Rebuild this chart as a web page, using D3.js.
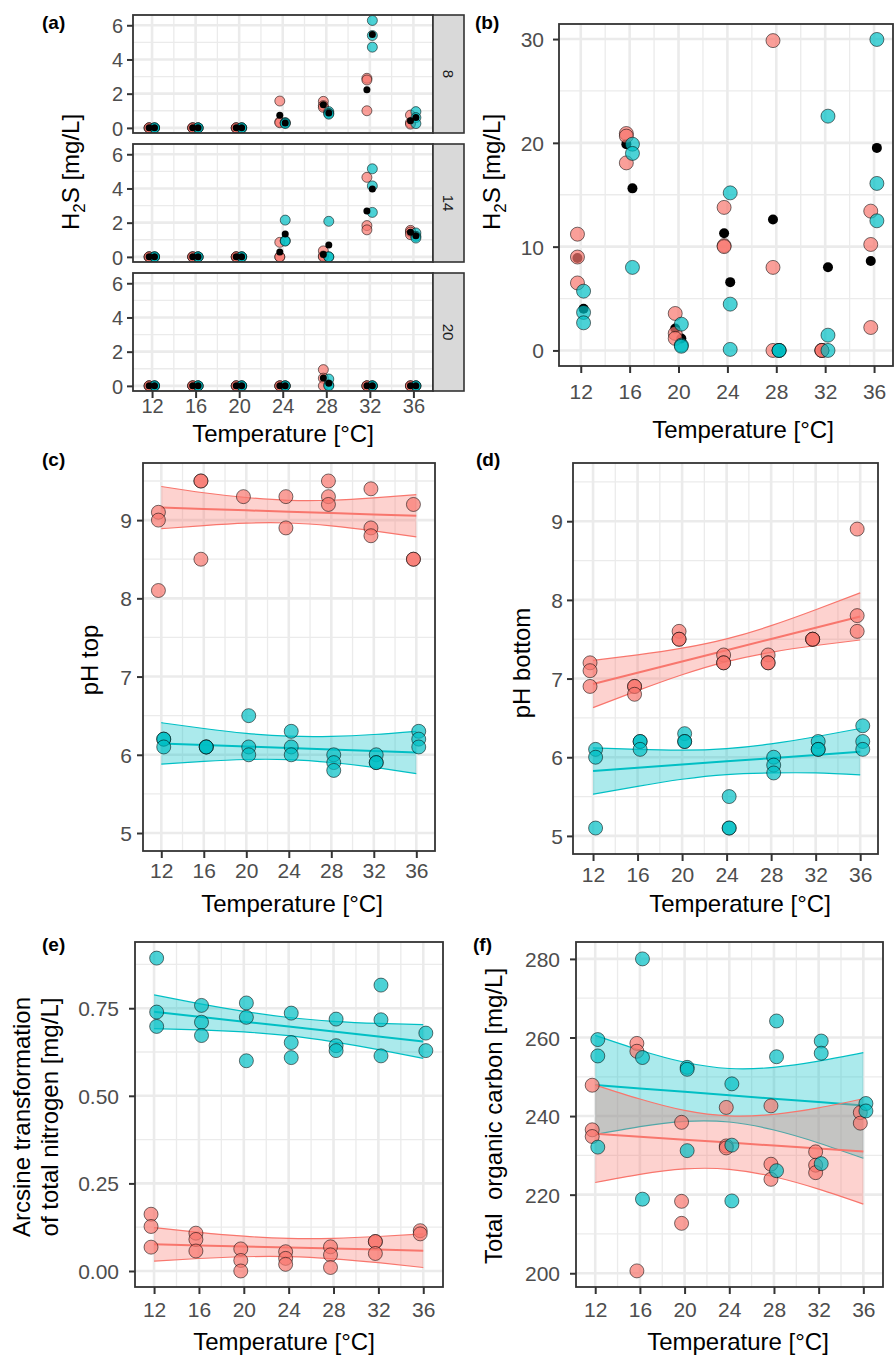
<!DOCTYPE html>
<html><head><meta charset="utf-8">
<script src="https://cdn.jsdelivr.net/npm/d3@7"></script>
<style>
body{margin:0;background:#fff}
svg{display:block}
text{font-family:"Liberation Sans",Arial,Helvetica,sans-serif}
</style>
</head><body>
<svg id="chart" width="894" height="1355"></svg>
<script>
// ---------------- DATA ----------------
const temps = [12, 16, 20, 24, 28, 32, 36];
const xTickLabels = ["12", "16", "20", "24", "28", "32", "36"];
const facetLabels = ["8", "14", "20"];
const xTitle = "Temperature [°C]";

// (a) H2S by facet, 3 replicates per temperature
const h2sA8Red   = [[0,0,0],[0,0,0],[0,0,0],[1.57,0.35,0.3],[1.55,1.3,1.2],[2.9,2.8,1.0],[0.75,0.3,0.22]];
const h2sA8Teal  = [[0,0,0],[0,0,0],[0,0,0],[0.3,0.3,0.25],[0.95,0.85,0.8],[6.28,5.4,4.72],[0.95,0.6,0.25]];
const h2sA14Red  = [[0,0,0],[0,0,0],[0,0,0],[0.85,0,0],[0.35,0.05,0],[4.65,1.83,1.58],[1.55,1.45,1.3]];
const h2sA14Teal = [[0,0,0],[0,0,0],[0,0,0],[2.15,0.95,0.92],[2.08,0,0],[5.15,4.15,2.6],[1.4,1.2,1.1]];
const h2sA20Red  = [[0,0,0],[0,0,0],[0,0,0],[0,0,0],[0.95,0.45,0],[0,0,0],[0,0,0]];
const h2sA20Teal = [[0,0,0],[0,0,0],[0,0,0],[0,0,0],[0.4,0.05,0],[0,0,0],[0,0,0]];

// (b) H2S
const h2sBRed  = [[11.2,9.0,6.5],[20.9,20.65,18.07],[3.56,1.64,1.16],[13.78,10.1,10.0],[29.85,8.0,0],[0,0,0],[13.42,10.21,2.21]];
const h2sBTeal = [[5.71,3.66,2.66],[19.87,18.98,8.0],[2.53,0.51,0.4],[15.18,4.46,0.1],[0,0,0],[22.57,1.47,0],[29.96,16.09,12.49]];

// (c) pH top
const pHtopRed  = [[9.1,9.0,8.1],[9.5,9.5,8.5],[9.3],[9.3,8.9],[9.5,9.3,9.2],[9.4,8.9,8.8],[9.2,8.5,8.5]];
const pHtopTeal = [[6.2,6.2,6.1],[6.1,6.1,6.1],[6.5,6.1,6.0],[6.3,6.1,6.0],[6.0,5.9,5.8],[6.0,5.9,5.9],[6.3,6.2,6.1]];
const pHtopRedFit  = [9.16, 9.143, 9.125, 9.108, 9.09, 9.073, 9.055];
const pHtopRedUpr  = [9.43, 9.35, 9.289, 9.253, 9.254, 9.283, 9.325];
const pHtopRedLwr  = [8.89, 8.93, 8.961, 8.963, 8.926, 8.862, 8.785];
const pHtopTealFit = [6.145, 6.126, 6.107, 6.088, 6.068, 6.049, 6.03];
const pHtopTealUpr = [6.41, 6.336, 6.274, 6.238, 6.235, 6.259, 6.3];
const pHtopTealLwr = [5.88, 5.916, 5.94, 5.938, 5.901, 5.839, 5.76];

// (d) pH bottom
const pHbotRed  = [[7.2,7.1,6.9],[6.9,6.9,6.8],[7.6,7.5,7.5],[7.3,7.2,7.2],[7.3,7.2,7.2],[7.5,7.5,7.5],[8.9,7.8,7.6]];
const pHbotTeal = [[6.1,6.0,5.1],[6.2,6.2,6.1],[6.3,6.2,6.2],[5.5,5.1,5.1],[6.0,5.9,5.8],[6.2,6.1,6.1],[6.4,6.2,6.1]];
const pHbotRedFit  = [6.93, 7.073, 7.217, 7.36, 7.503, 7.647, 7.79];
const pHbotRedUpr  = [7.23, 7.30, 7.386, 7.505, 7.672, 7.874, 8.09];
const pHbotRedLwr  = [6.63, 6.846, 7.048, 7.215, 7.334, 7.42, 7.49];
const pHbotTealFit = [5.825, 5.866, 5.907, 5.948, 5.988, 6.029, 6.07];
const pHbotTealUpr = [6.12, 6.10, 6.09, 6.11, 6.17, 6.26, 6.365];
const pHbotTealLwr = [5.53, 5.63, 5.72, 5.78, 5.80, 5.80, 5.775];

// (e) arcsine total nitrogen
const tnRed  = [[0.162,0.127,0.068],[0.108,0.09,0.057],[0.063,0.03,0.0],[0.055,0.036,0.019],[0.069,0.046,0.01],[0.084,0.084,0.05],[0.115,0.106]];
const tnTeal = [[0.893,0.739,0.698],[0.758,0.71,0.672],[0.765,0.724,0.6],[0.736,0.652,0.609],[0.719,0.643,0.629],[0.816,0.717,0.614],[0.679,0.629]];
const tnRedFit  = [0.076, 0.073, 0.07, 0.067, 0.064, 0.061, 0.058];
const tnRedUpr  = [0.124, 0.1104, 0.0993, 0.093, 0.0933, 0.0984, 0.106];
const tnRedLwr  = [0.028, 0.0356, 0.0407, 0.041, 0.0347, 0.0236, 0.010];
const tnTealFit = [0.74, 0.7258, 0.7117, 0.6975, 0.6833, 0.6692, 0.655];
const tnTealUpr = [0.788, 0.763, 0.741, 0.7235, 0.7126, 0.7066, 0.703];
const tnTealLwr = [0.692, 0.6884, 0.6824, 0.6715, 0.654, 0.632, 0.607];

// (f) total organic carbon
const tocRed  = [[247.85,236.5,234.8],[258.5,256.5,200.6],[238.4,218.3,212.7],[242.2,232.4,231.9],[242.6,227.75,223.9],[230.9,227.5,225.6],[240.9,238.2]];
const tocTeal = [[259.47,255.3,232.1],[280,254.9,218.85],[252.4,251.9,231.2],[248.2,232.6,218.4],[264.2,255.1,226.1],[259.1,256,227.9],[243.2,241.3]];
const tocRedFit  = [235.5, 234.75, 234, 233.25, 232.5, 231.75, 231];
const tocRedUpr  = [247.9, 244.35, 241.45, 240.05, 240.45, 242.1, 244.4];
const tocRedLwr  = [223.1, 225.15, 226.55, 226.45, 224.55, 221.4, 217.6];
const tocTealFit = [247.9, 247.03, 246.17, 245.3, 244.43, 243.57, 242.7];
const tocTealUpr = [260.53, 256.76, 253.7, 252.11, 252.41, 253.98, 256.14];
const tocTealLwr = [235.27, 237.3, 238.64, 238.49, 236.45, 233.16, 229.26];

// ---------------- STYLE ----------------
const RED = "#F8766D", TEAL = "#00BFC4";
const GRID = "#EBEBEB", BORDER = "#333333", TICKTXT = "#4D4D4D";
const xMinorTicks = [14, 18, 22, 26, 30, 34];
const DODGE_RED = -0.27, DODGE_TEAL = 0.23;

const svg = d3.select("#chart");
let clipId = 0;

function flat(arr, dodge) {
  const out = [];
  arr.forEach((vals, i) => vals.forEach(v => out.push({ x: temps[i] + dodge, y: v })));
  return out;
}
function means(arr, dodge) {
  return arr.map((vals, i) => ({ x: temps[i] + dodge, y: d3.mean(vals) }));
}

function panel(o) {
  const x = d3.scaleLinear().domain(o.xDomain).range([o.x0, o.x1]);
  const y = d3.scaleLinear().domain(o.yDomain).range([o.y1, o.y0]);
  const g = svg.append("g");
  g.append("rect").attr("x", o.x0).attr("y", o.y0).attr("width", o.x1 - o.x0).attr("height", o.y1 - o.y0).attr("fill", "#fff");
  const grid = g.append("g");
  grid.selectAll(".ymin").data(o.yMinor).join("line")
    .attr("x1", o.x0).attr("x2", o.x1).attr("y1", d => y(d)).attr("y2", d => y(d))
    .attr("stroke", GRID).attr("stroke-width", 1.3);
  grid.selectAll(".xmin").data(xMinorTicks).join("line")
    .attr("y1", o.y0).attr("y2", o.y1).attr("x1", d => x(d)).attr("x2", d => x(d))
    .attr("stroke", GRID).attr("stroke-width", 1.3);
  grid.selectAll(".ymaj").data(o.yMajor).join("line")
    .attr("x1", o.x0).attr("x2", o.x1).attr("y1", d => y(d)).attr("y2", d => y(d))
    .attr("stroke", GRID).attr("stroke-width", 2.6);
  grid.selectAll(".xmaj").data(temps).join("line")
    .attr("y1", o.y0).attr("y2", o.y1).attr("x1", d => x(d)).attr("x2", d => x(d))
    .attr("stroke", GRID).attr("stroke-width", 2.6);

  const id = "clip" + (clipId++);
  svg.append("clipPath").attr("id", id).append("rect")
    .attr("x", o.x0).attr("y", o.y0).attr("width", o.x1 - o.x0).attr("height", o.y1 - o.y0);
  const plot = g.append("g").attr("clip-path", `url(#${id})`);

  // y axis
  const ya = g.append("g").attr("transform", `translate(${o.x0},0)`)
    .call(d3.axisLeft(y).tickValues(o.yMajor).tickSize(6).tickFormat(o.yFmt || (d => d)));
  ya.select(".domain").remove();
  ya.selectAll(".tick line").attr("stroke", BORDER).attr("stroke-width", 2);
  ya.selectAll(".tick text").attr("x", -o.yLabOff).attr("dy", "0.36em")
    .attr("fill", TICKTXT).attr("font-size", o.tickSize || 21).attr("font-family", null);

  if (o.xAxis) {
    const xa = g.append("g").attr("transform", `translate(0,${o.y1})`)
      .call(d3.axisBottom(x).tickValues(temps).tickSize(7).tickFormat((d, i) => xTickLabels[i]));
    xa.select(".domain").remove();
    xa.selectAll(".tick line").attr("stroke", BORDER).attr("stroke-width", 2);
    xa.selectAll(".tick text").attr("y", o.xLabOff).attr("dy", 0)
      .attr("fill", TICKTXT).attr("font-size", o.tickSize || 21).attr("font-family", null);
  }
  return { x, y, g, plot, o };
}

function border(p) {
  const o = p.o;
  p.g.append("rect").attr("x", o.x0).attr("y", o.y0).attr("width", o.x1 - o.x0).attr("height", o.y1 - o.y0)
    .attr("fill", "none").attr("stroke", BORDER).attr("stroke-width", 1.8);
}

function points(p, data, color, r) {
  p.plot.append("g").selectAll("circle").data(data).join("circle")
    .attr("cx", d => p.x(d.x)).attr("cy", d => p.y(d.y)).attr("r", r)
    .attr("fill", color).attr("fill-opacity", 0.7)
    .attr("stroke", "#000").attr("stroke-opacity", 0.6).attr("stroke-width", 0.9);
}
function blackPts(p, data, r) {
  p.plot.append("g").selectAll("circle").data(data).join("circle")
    .attr("cx", d => p.x(d.x)).attr("cy", d => p.y(d.y)).attr("r", r).attr("fill", "#000");
}

function smooth(p, fit, upr, lwr, color) {
  const rows = temps.map((t, i) => ({ t, f: fit[i], u: upr[i], l: lwr[i] }));
  const area = d3.area().x(d => p.x(d.t)).y0(d => p.y(d.l)).y1(d => p.y(d.u)).curve(d3.curveNatural);
  const g = p.plot.append("g");
  g.append("path").datum(rows).attr("d", area).attr("fill", color).attr("fill-opacity", 0.33);
  const edge = acc => d3.line().x(d => p.x(d.t)).y(d => p.y(acc(d))).curve(d3.curveNatural);
  g.append("path").datum(rows).attr("d", edge(d => d.u)).attr("fill", "none").attr("stroke", color).attr("stroke-width", 1.2);
  g.append("path").datum(rows).attr("d", edge(d => d.l)).attr("fill", "none").attr("stroke", color).attr("stroke-width", 1.2);
  g.append("path").datum(rows).attr("d", d3.line().x(d => p.x(d.t)).y(d => p.y(d.f)))
    .attr("fill", "none").attr("stroke", color).attr("stroke-width", 2);
}

function text(x, y, s, opts = {}) {
  const t = svg.append("text").attr("x", x).attr("y", y).text(s)
    .attr("font-size", opts.size || 24).attr("fill", opts.fill || "#000")
    .attr("text-anchor", opts.anchor || "middle");
  if (opts.bold) t.attr("font-weight", "bold");
  if (opts.rotate) t.attr("transform", `rotate(-90,${x},${y})`);
  return t;
}
function h2sTitle(x, y) {
  const t = svg.append("text").attr("x", x).attr("y", y).attr("font-size", 24)
    .attr("text-anchor", "middle").attr("transform", `rotate(-90,${x},${y})`);
  t.append("tspan").text("H");
  t.append("tspan").text("2").attr("font-size", 17).attr("dy", 6);
  t.append("tspan").text("S [mg/L]").attr("dy", -6);
}

// ---------------- PANEL (a) ----------------
const aFacets = [
  { y0: 15, y1: 133, red: h2sA8Red, teal: h2sA8Teal },
  { y0: 144, y1: 262, red: h2sA14Red, teal: h2sA14Teal },
  { y0: 273, y1: 391, red: h2sA20Red, teal: h2sA20Teal }
];
aFacets.forEach((f, i) => {
  const p = panel({ x0: 133, x1: 433, y0: f.y0, y1: f.y1, xDomain: [10.25, 37.8], yDomain: [-0.3, 6.6],
    yMajor: [0, 2, 4, 6], yMinor: [1, 3, 5], yLabOff: 10, xAxis: i === 2, xLabOff: 22, tickSize: 20 });
  points(p, flat(f.red, DODGE_RED), RED, 5);
  points(p, flat(f.teal, DODGE_TEAL), TEAL, 5);
  blackPts(p, means(f.red, DODGE_RED), 3.5);
  blackPts(p, means(f.teal, DODGE_TEAL), 3.5);
  border(p);
  svg.append("rect").attr("x", 433).attr("y", f.y0).attr("width", 31).attr("height", f.y1 - f.y0)
    .attr("fill", "#D9D9D9").attr("stroke", BORDER).attr("stroke-width", 1.6);
  const cy = (f.y0 + f.y1) / 2;
  svg.append("text").attr("x", 448.5).attr("y", cy).attr("text-anchor", "middle").attr("dy", "0.35em")
    .attr("font-size", 15).attr("fill", "#1A1A1A").attr("transform", `rotate(90,448.5,${cy})`).text(facetLabels[i]);
});
h2sTitle(79, 172);
text(283, 442, xTitle);
text(42, 29, "(a)", { size: 19, bold: true, anchor: "start" });

// ---------------- PANEL (b) ----------------
{
  const p = panel({ x0: 559, x1: 893, y0: 24, y1: 366, xDomain: [10.22, 37.55], yDomain: [-1.5, 31.45],
    yMajor: [0, 10, 20, 30], yMinor: [5, 15, 25], yLabOff: 15, xAxis: true, xLabOff: 33 });
  blackPts(p, means(h2sBRed, DODGE_RED), 5);
  blackPts(p, means(h2sBTeal, DODGE_TEAL), 5);
  points(p, flat(h2sBRed, DODGE_RED), RED, 7);
  points(p, flat(h2sBTeal, DODGE_TEAL), TEAL, 7);
  border(p);
  h2sTitle(500, 172);
  text(743, 438, xTitle);
  text(475, 29, "(b)", { size: 19, bold: true, anchor: "start" });
}

// ---------------- PANEL (c) ----------------
{
  const p = panel({ x0: 143, x1: 435, y0: 463, y1: 851, xDomain: [10.28, 37.76], yDomain: [4.77, 9.73],
    yMajor: [5, 6, 7, 8, 9], yMinor: [5.5, 6.5, 7.5, 8.5, 9.5], yLabOff: 11, xAxis: true, xLabOff: 27 });
  smooth(p, pHtopTealFit, pHtopTealUpr, pHtopTealLwr, TEAL);
  smooth(p, pHtopRedFit, pHtopRedUpr, pHtopRedLwr, RED);
  points(p, flat(pHtopRed, DODGE_RED), RED, 7);
  points(p, flat(pHtopTeal, DODGE_TEAL), TEAL, 7);
  border(p);
  text(98, 660, "pH top", { rotate: true });
  text(292, 912, xTitle);
  text(42, 466, "(c)", { size: 19, bold: true, anchor: "start" });
}

// ---------------- PANEL (d) ----------------
{
  const p = panel({ x0: 573, x1: 878, y0: 463, y1: 854, xDomain: [10.2, 37.6], yDomain: [4.77, 9.74],
    yMajor: [5, 6, 7, 8, 9], yMinor: [5.5, 6.5, 7.5, 8.5, 9.5], yLabOff: 10, xAxis: true, xLabOff: 28 });
  smooth(p, pHbotTealFit, pHbotTealUpr, pHbotTealLwr, TEAL);
  smooth(p, pHbotRedFit, pHbotRedUpr, pHbotRedLwr, RED);
  points(p, flat(pHbotRed, DODGE_RED), RED, 7);
  points(p, flat(pHbotTeal, DODGE_TEAL), TEAL, 7);
  border(p);
  text(530, 663, "pH bottom", { rotate: true });
  text(740, 912, xTitle);
  text(476, 466, "(d)", { size: 19, bold: true, anchor: "start" });
}

// ---------------- PANEL (e) ----------------
{
  const p = panel({ x0: 135, x1: 443, y0: 942, y1: 1287, xDomain: [10.3, 37.76], yDomain: [-0.0457, 0.939],
    yMajor: [0, 0.25, 0.5, 0.75], yMinor: [0.125, 0.375, 0.625, 0.875], yFmt: d3.format(".2f"),
    yLabOff: 16, xAxis: true, xLabOff: 30 });
  smooth(p, tnTealFit, tnTealUpr, tnTealLwr, TEAL);
  smooth(p, tnRedFit, tnRedUpr, tnRedLwr, RED);
  points(p, flat(tnRed, DODGE_RED), RED, 7);
  points(p, flat(tnTeal, DODGE_TEAL), TEAL, 7);
  border(p);
  text(30, 1117, "Arcsine transformation", { rotate: true });
  text(58, 1117, "of total nitrogen [mg/L]", { rotate: true });
  text(284, 1350, xTitle);
  text(42, 951, "(e)", { size: 19, bold: true, anchor: "start" });
}

// ---------------- PANEL (f) ----------------
{
  const p = panel({ x0: 576, x1: 883, y0: 942, y1: 1287, xDomain: [10.28, 37.76], yDomain: [196.5, 284.3],
    yMajor: [200, 220, 240, 260, 280], yMinor: [210, 230, 250, 270], yLabOff: 16, xAxis: true, xLabOff: 30 });
  smooth(p, tocTealFit, tocTealUpr, tocTealLwr, TEAL);
  smooth(p, tocRedFit, tocRedUpr, tocRedLwr, RED);
  points(p, flat(tocRed, DODGE_RED), RED, 7);
  points(p, flat(tocTeal, DODGE_TEAL), TEAL, 7);
  border(p);
  text(502, 1116, "Total  organic carbon [mg/L]", { rotate: true }).attr("xml:space", "preserve").style("white-space", "pre");
  text(738, 1350, xTitle);
  text(473, 951, "(f)", { size: 19, bold: true, anchor: "start" });
}
</script>
</body></html>
